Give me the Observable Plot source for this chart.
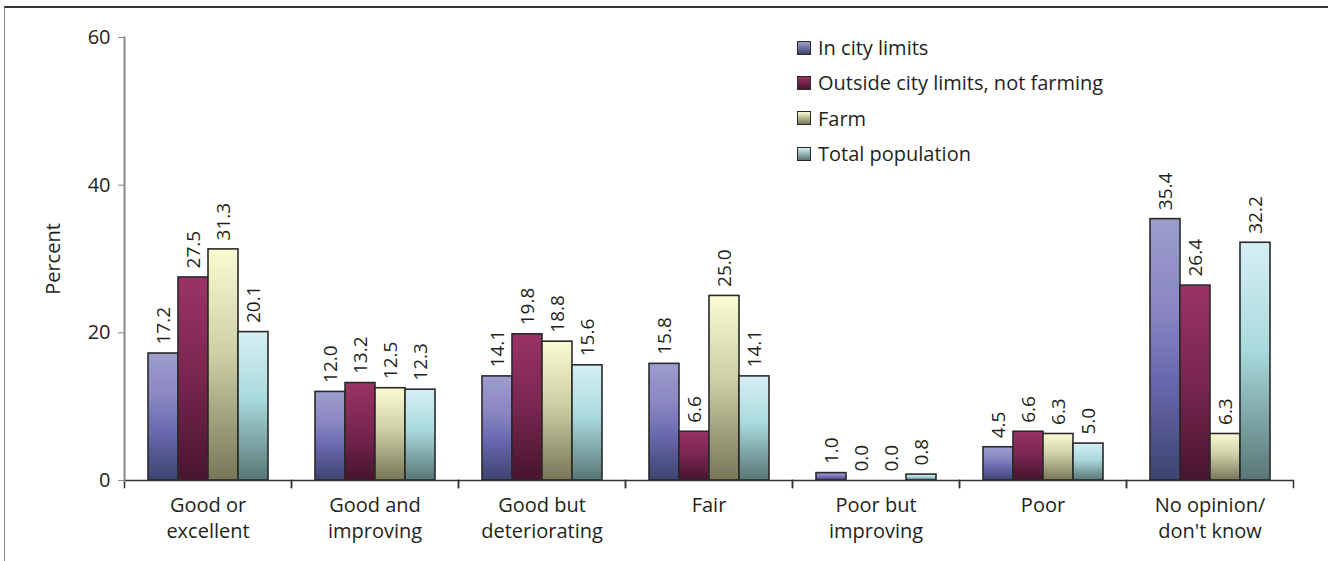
<!DOCTYPE html>
<html>
<head>
<meta charset="utf-8">
<script src="https://cdn.jsdelivr.net/npm/d3@7"></script>
<script src="https://cdn.jsdelivr.net/npm/@observablehq/plot@0.6"></script>
<style>
  html, body { margin: 0; padding: 0; background: #fff; }
  #wrap { position: relative; width: 1328px; height: 561px; overflow: hidden; font-family: "Open Sans", sans-serif; color: #231f20; }
  #border { position: absolute; left: 4px; top: 6px; right: -10px; bottom: -10px; border-top: 2px solid #333; border-left: 1.5px solid #8a8a8a; }
  #chart { position: absolute; left: 0; top: 0; }
  #legend { position: absolute; left: 797px; top: 30px; }
  .item { display: flex; align-items: center; height: 35.3px; font-size: 20px; }
  .sw { width: 12px; height: 12px; border: 1.5px solid #2a2a2a; margin-right: 7px; }
</style>
</head>
<body>
<svg width="0" height="0" style="position:absolute">
  <defs>
    <linearGradient id="g0" x1="0" y1="0" x2="0" y2="1">
      <stop offset="0" stop-color="#9d9dcd"/>
      <stop offset="0.35" stop-color="#8986c2"/>
      <stop offset="0.62" stop-color="#6868ae"/>
      <stop offset="1" stop-color="#3d4470"/>
    </linearGradient>
    <linearGradient id="g1" x1="0" y1="0" x2="0" y2="1">
      <stop offset="0" stop-color="#9b3366"/>
      <stop offset="0.5" stop-color="#782650"/>
      <stop offset="1" stop-color="#48142f"/>
    </linearGradient>
    <linearGradient id="g2" x1="0" y1="0" x2="0" y2="1">
      <stop offset="0" stop-color="#fbfbd2"/>
      <stop offset="0.45" stop-color="#cfcfa6"/>
      <stop offset="1" stop-color="#777658"/>
    </linearGradient>
    <linearGradient id="g3" x1="0" y1="0" x2="0" y2="1">
      <stop offset="0" stop-color="#d6eff4"/>
      <stop offset="0.45" stop-color="#a9dadd"/>
      <stop offset="1" stop-color="#587675"/>
    </linearGradient>
  </defs>
</svg>
<div id="wrap">
  <div id="border"></div>
  <div id="chart"></div>
  <div id="legend"></div>
</div>
<script>
const categories = ["Good or excellent", "Good and improving", "Good but deteriorating", "Fair", "Poor but improving", "Poor", "No opinion/ don't know"];
const categoryLabels = ["Good or\nexcellent", "Good and\nimproving", "Good but\ndeteriorating", "Fair", "Poor but\nimproving", "Poor", "No opinion/\ndon't know"];
const series = ["In city limits", "Outside city limits, not farming", "Farm", "Total population"];
const inCityLimits = [17.2, 12.0, 14.1, 15.8, 1.0, 4.5, 35.4];
const outsideCityLimits = [27.5, 13.2, 19.8, 6.6, 0.0, 6.6, 26.4];
const farm = [31.3, 12.5, 18.8, 25.0, 0.0, 6.3, 6.3];
const totalPopulation = [20.1, 12.3, 15.6, 14.1, 0.8, 5.0, 32.2];
const yTicks = [0, 20, 40, 60];
const gradients = ["url(#g0)", "url(#g1)", "url(#g2)", "url(#g3)"];

const seriesValues = [inCityLimits, outsideCityLimits, farm, totalPopulation];
const rows = [];
categories.forEach((c, i) => {
  series.forEach((s, j) => rows.push({category: c, series: s, value: seriesValues[j][i]}));
});

const W = 1328, H = 561, mTop = 37, mBottom = 81;
const innerH = H - mTop - mBottom;

const chart = Plot.plot({
  width: W,
  height: H,
  marginTop: mTop,
  marginBottom: mBottom,
  marginLeft: 123,
  marginRight: 35,
  style: {fontFamily: "'Open Sans', sans-serif", fontSize: "20px", color: "#231f20", background: "transparent"},
  fx: {domain: categories, padding: 0, label: null},
  x: {domain: series, paddingInner: 0, paddingOuter: 0.76, axis: null},
  y: {domain: [0, 60]},
  color: {domain: series, range: gradients},
  marks: [
    Plot.barY(rows.filter(d => d.value > 0), {fx: "category", x: "series", y: "value", fill: "series", stroke: "#2a2a2a", strokeWidth: 1.6}),
    Plot.text(rows, {fx: "category", x: "series", y: "value", text: d => d.value.toFixed(1), rotate: -90, textAnchor: "start", lineAnchor: "middle", dy: -9, fontSize: 19, fill: "#231f20"}),
    Plot.ruleY([0], {stroke: "#333", strokeWidth: 1.5}),
    Plot.frame({anchor: "left", insetTop: innerH, insetBottom: -7, stroke: "#333", strokeWidth: 1.5}),
    Plot.frame({anchor: "right", insetTop: innerH, insetBottom: -7, stroke: "#333", strokeWidth: 1.5}),
    Plot.frame({anchor: "left", fx: [categories[0]], stroke: "#8a8a8a", strokeWidth: 2}),
    Plot.axisY({ticks: yTicks, tickSize: 6, tickPadding: 8, stroke: "#8a8a8a", fontSize: 20, fill: "#231f20", label: "Percent", labelAnchor: "center", labelOffset: 79, labelArrow: "none"}),
    Plot.axisFx({anchor: "bottom", tickSize: 0, tickPadding: 13, fontSize: 20, lineHeight: 1.3, fill: "#231f20", label: null, tickFormat: d => categoryLabels[categories.indexOf(d)]})
  ]
});
document.getElementById("chart").appendChild(chart);

const legend = document.getElementById("legend");
series.forEach((s, j) => {
  const item = document.createElement("div");
  item.className = "item";
  const sw = document.createElement("div");
  sw.className = "sw";
  const stops = [["#9d9dcd", "#3d4470"], ["#9b3366", "#48142f"], ["#fbfbd2", "#777658"], ["#d6eff4", "#587675"]][j];
  sw.style.background = `linear-gradient(${stops[0]}, ${stops[1]})`;
  const label = document.createElement("span");
  label.textContent = s;
  item.appendChild(sw);
  item.appendChild(label);
  legend.appendChild(item);
});
</script>
</body>
</html>
